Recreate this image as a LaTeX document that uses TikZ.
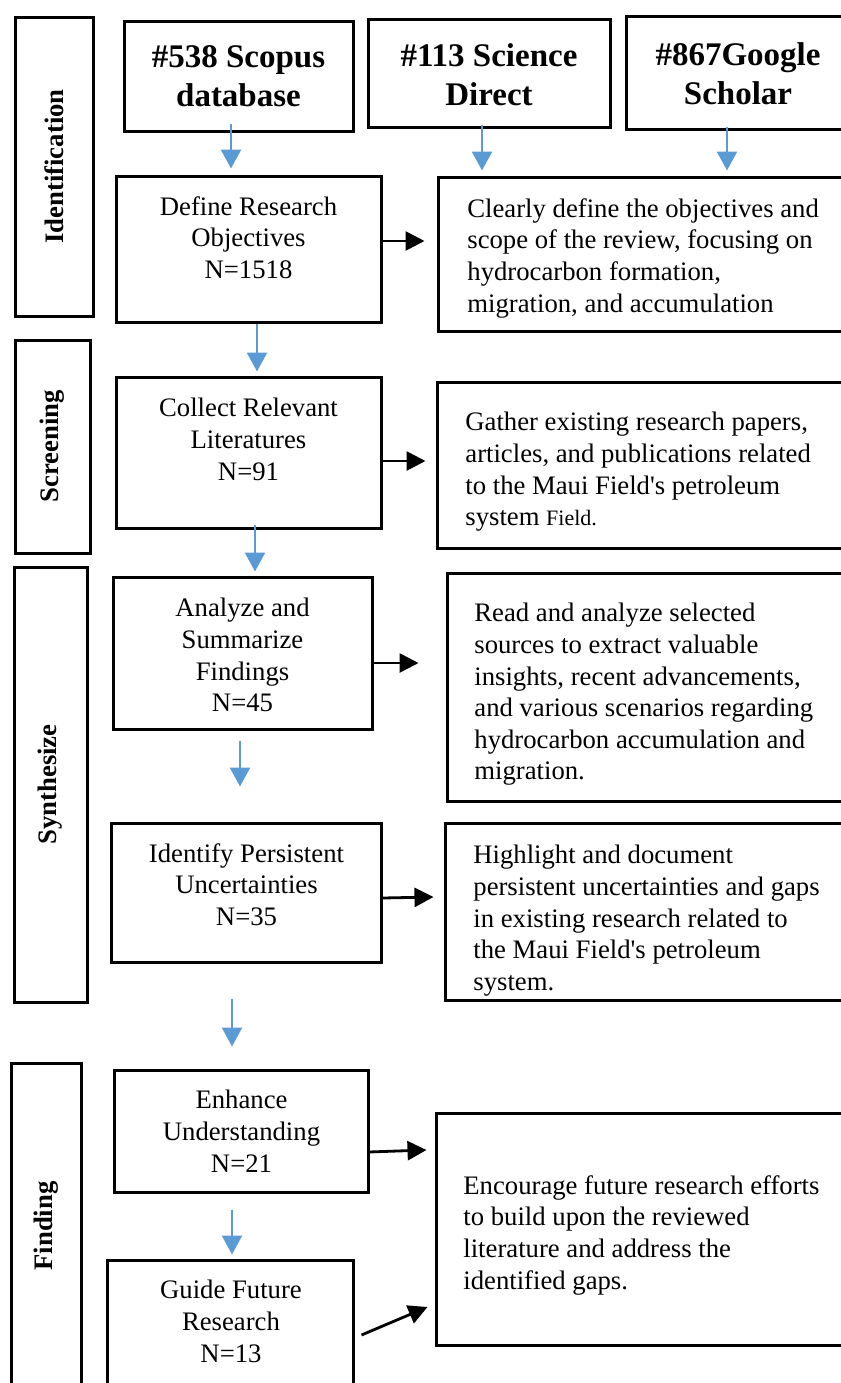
\documentclass[tikz,border=0pt]{standalone}
\usepackage{fontspec}
\setmainfont{Liberation Serif}
\usetikzlibrary{arrows.meta,calc}
\definecolor{flowBlue}{HTML}{5B9BD5}
\tikzset{
  flow diagram/.style={font=\fontsize{13.35}{15.8}\selectfont, line join=miter},
  frame box/.style={draw, line width=1.5pt, inner sep=0pt},
  step text/.style={align=center, anchor=north, inner sep=0pt},
  note text/.style={align=left, anchor=north west, inner sep=0pt},
  head text/.style={step text, font=\fontsize{16.5}{19.5}\selectfont\bfseries},
  stage label/.style={font=\fontsize{13.35}{15.8}\selectfont\bfseries, rotate=90, inner sep=0pt},
  blue arrow/.style={-{Triangle[length=9.5pt,width=10pt]}, draw=flowBlue, line width=1.2pt},
  black arrow/.style={-{Triangle[length=9.5pt,width=9.5pt]}, line width=1.4pt}
}
\begin{document}
\begin{tikzpicture}[flow diagram,x=0.5pt,y=-0.5pt]
\path[use as bounding box, fill=white] (0,0) rectangle (841,1383);
% stages
\node[frame box, minimum width=39pt, minimum height=149.5pt] (stId) at (54,166.5) {};
\node[frame box, minimum width=37.5pt, minimum height=106.5pt] (stSc) at (52.5,446.5) {};
\node[frame box, minimum width=36.5pt, minimum height=217.5pt] (stSy) at (50.5,784.5) {};
\node[frame box, minimum width=35pt, minimum height=163pt] (stFi) at (46,1226) {};
\node[stage label] (lId) at (stId) {Identification};
\node[stage label] (lSc) at (stSc) {Screening};
\node[stage label] (lSy) at (stSy) {Synthesize};
\node[stage label] (lFi) at (stFi) {Finding};
% sources
\node[frame box, minimum width=114.5pt, minimum height=55pt] (scopus) at (238.5,76) {};
\node[frame box, minimum width=121pt, minimum height=54pt] (scidir) at (489,73) {};
\node[frame box, minimum width=112pt, minimum height=56.5pt] (google) at (738,72.5) {};
\node[head text] (tScopus) at (238.5,45) {\#538 Scopus\\database};
\node[head text] (tScidir) at (489,43) {\#113 Science\\Direct};
\node[head text] (tGoogle) at (738,42) {\#867Google\\Scholar};
% steps
\node[frame box, minimum width=132.5pt, minimum height=73pt] (def) at (248.5,249) {};
\node[frame box, minimum width=132.5pt, minimum height=75.5pt] (col) at (248.5,452.5) {};
\node[frame box, minimum width=129.5pt, minimum height=76pt] (ana) at (242.5,653) {};
\node[frame box, minimum width=135pt, minimum height=69.5pt] (idf) at (246,892.5) {};
\node[frame box, minimum width=127pt, minimum height=61pt] (enh) at (241,1131) {};
\node[frame box, minimum width=123pt, minimum height=70pt] (gui) at (230,1330) {};
\node[step text] (tDef) at (248.5,196) {Define Research\\Objectives\\N=1518};
\node[step text] (tCol) at (248.5,398) {Collect Relevant\\Literatures\\N=91};
\node[step text] (tAna) at (242.5,598) {Analyze and\\Summarize\\Findings\\N=45};
\node[step text] (tIdf) at (246.5,843) {Identify Persistent\\Uncertainties\\N=35};
\node[step text] (tEnh) at (241.5,1090) {Enhance\\Understanding\\N=21};
\node[step text] (tGui) at (231,1280) {Guide Future\\Research\\N=13};
% notes
\node[frame box, minimum width=206pt, minimum height=77pt] (nDef) at (644,254) {};
\node[frame box, minimum width=206.5pt, minimum height=83pt] (nCol) at (643.5,465) {};
\node[frame box, minimum width=201.5pt, minimum height=114pt] (nAna) at (648.5,687) {};
\node[frame box, minimum width=202.5pt, minimum height=88.5pt] (nIdf) at (647.5,911.5) {};
\node[frame box, minimum width=207pt, minimum height=116pt] (nEnc) at (643,1229) {};
\node[note text] (tnDef) at (467,198) {Clearly define the objectives and\\scope of the review, focusing on\\hydrocarbon formation,\\migration, and accumulation};
\node[note text] (tnCol) at (465,412) {Gather existing research papers,\\articles, and publications related\\to the Maui Field\textquotesingle s petroleum\\system {\fontsize{11}{15.8}\selectfont Field.}};
\node[note text] (tnAna) at (474,603) {Read and analyze selected\\sources to extract valuable\\insights, recent advancements,\\and various scenarios regarding\\hydrocarbon accumulation and\\migration.};
\node[note text] (tnIdf) at (473,845) {Highlight and document\\persistent uncertainties and gaps\\in existing research related to\\the Maui Field\textquotesingle s petroleum\\system.};
\node[note text] (tnEnc) at (463,1175) {Encourage future research efforts\\to build upon the reviewed\\literature and address the\\identified gaps.};
% blue flow
\draw[blue arrow] ($(scopus.south)+(-7.5,-9)$) -- ($(def.north)+(-17.5,-6)$);
\draw[blue arrow] ($(scidir.south)+(-7,-4)$) -- ($(nDef.north)+(-162,-5)$);
\draw[blue arrow] ($(google.south)+(-11,-4)$) -- ($(nDef.north)+(83,-5)$);
\draw[blue arrow] ($(def.south)+(8.5,0)$) -- ($(col.north)+(8.5,-4)$);
\draw[blue arrow] ($(col.south)+(6.5,-5)$) -- ($(ana.north)+(12.5,-4)$);
\draw[blue arrow] ($(ana.south)+(-2.5,10)$) -- ($(idf.north)+(-6,-35)$);
\draw[blue arrow] ($(idf.south)+(-14,35)$) -- ($(enh.north)+(-9,-22)$);
\draw[blue arrow] ($(enh.south)+(-9,16)$) -- ($(gui.north)+(2,-4)$);
% black links
\draw[black arrow] ($(def.east)+(0,-8)$) -- ($(nDef.west)+(-12,-13)$);
\draw[black arrow] ($(col.east)+(0,8.5)$) -- ($(nCol.west)+(-10,-4)$);
\draw[black arrow] ($(ana.east)+(0,10)$) -- ($(nAna.west)+(-27,-24)$);
\draw[black arrow] ($(idf.east)+(0,5.5)$) -- ($(nIdf.west)+(-10,-14.5)$);
\draw[black arrow] ($(enh.east)+(-1,21)$) -- ($(nEnc.west)+(-8,-79)$);
\draw[black arrow] ($(gui.east)+(7,5)$) -- ($(nEnc.west)+(-7,78)$);
\end{tikzpicture}
\end{document}
